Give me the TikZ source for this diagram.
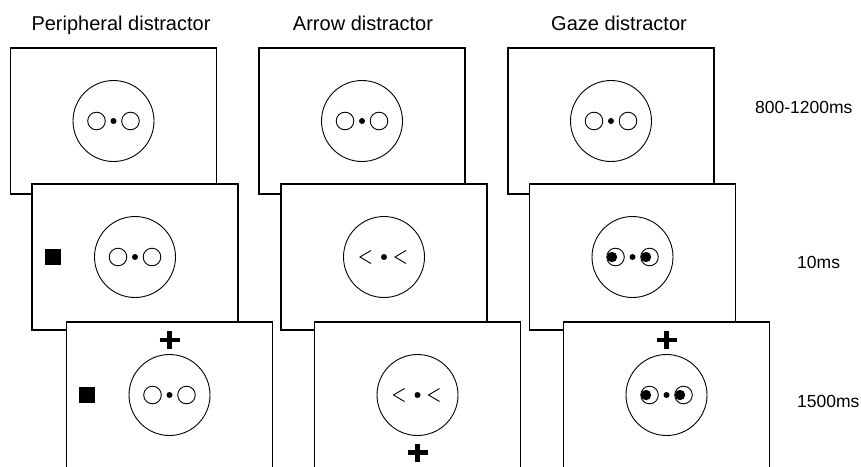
\documentclass[tikz,border=0pt]{standalone}
\usepackage{fontspec}
\setmainfont{Liberation Sans}
\usetikzlibrary{positioning}

\tikzset{
    screen/.style={draw, fill=white, line width=1.2pt, minimum width=206pt, minimum height=146pt, inner sep=0pt},
    ring/.style={line width=0.9pt},
    head/.style={anchor=base, inner sep=0pt, font=\fontsize{20}{24}\selectfont},
    timing/.style={anchor=base west, inner sep=0pt, font=\fontsize{17.5}{21}\selectfont}
}

% face with empty eyes
\newcommand{\plainface}[1]{
    \begin{scope}[shift={(#1.center)}]
        \draw[ring] (0,0) circle (40.5pt);
        \draw[ring] (-17,0) circle (8.8pt) (17,0) circle (8.8pt);
        \fill (0,0) circle (3pt);
    \end{scope}}
% face with arrows
\newcommand{\arrowface}[1]{
    \begin{scope}[shift={(#1.center)}]
        \draw[ring] (0,0) circle (40.5pt);
        \draw[ring] (-13,-6.5) -- (-24,0) -- (-13,6.5);
        \draw[ring] (22,-6.5) -- (11,0) -- (22,6.5);
        \fill (0,0) circle (3pt);
    \end{scope}}
% face looking left
\newcommand{\gazeface}[1]{
    \begin{scope}[shift={(#1.center)}]
        \draw[ring] (0,0) circle (40.5pt);
        \draw[ring] (-17,0) circle (8.8pt) (17,0) circle (8.8pt);
        \fill (-20.5,0) circle (5.2pt) (13.5,0) circle (5.2pt);
        \fill (0,0) circle (3pt);
    \end{scope}}
% fixation cross, offset from screen centre
\newcommand{\fixplus}[2]{
    \draw[line width=4.5pt, shift={(#1.center)}] (-10,#2) -- (10,#2) (0,#2-9) -- (0,#2+9);}
% peripheral square
\newcommand{\cuebox}[1]{
    \fill[shift={(#1.center)}] (-90.5,-8) rectangle (-74.5,8);}

\begin{document}
\begin{tikzpicture}[x=1pt, y=-1pt]
    \clip (0,0) rectangle (861,466);
    \fill[white] (0,0) rectangle (861,466);

    \node[head] (hperi) at (121,30) {Peripheral distractor};
    \node[head] (harrow) at (363,30) {Arrow distractor};
    \node[head] (hgaze) at (619,30) {Gaze distractor};

    \node[timing] (t1) at (755,113) {800-1200ms};
    \node[timing] (t2) at (797,268) {10ms};
    \node[timing] (t3) at (797,407) {1500ms};

    % peripheral
    \node[screen] (p1) at (113.5,121) {};
    \plainface{p1}
    \node[screen] (p2) at (135,257) {};
    \plainface{p2}
    \cuebox{p2}
    \node[screen] (p3) at (169.5,395) {};
    \plainface{p3}
    \cuebox{p3}
    \fixplus{p3}{-55}

    % arrow
    \node[screen] (a1) at (362,121) {};
    \plainface{a1}
    \node[screen] (a2) at (384,257) {};
    \arrowface{a2}
    \node[screen] (a3) at (417.5,395) {};
    \arrowface{a3}
    \fixplus{a3}{57.5}

    % gaze
    \node[screen] (g1) at (611,121) {};
    \plainface{g1}
    \node[screen] (g2) at (632.5,257) {};
    \gazeface{g2}
    \node[screen] (g3) at (666.5,395) {};
    \gazeface{g3}
    \fixplus{g3}{-55}
\end{tikzpicture}
\end{document}
